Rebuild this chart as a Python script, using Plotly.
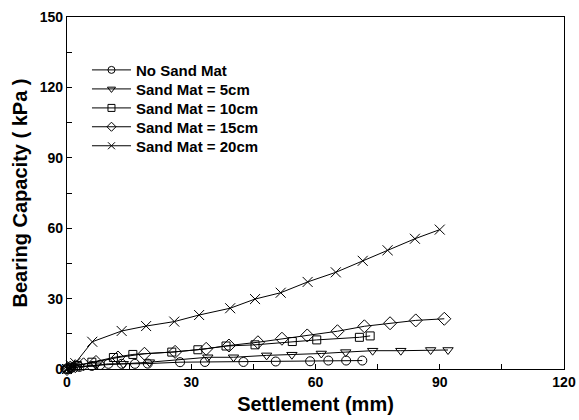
import plotly.graph_objects as go

# ---- data (Settlement mm, Bearing capacity kPa) ----
names = ["No Sand Mat", "Sand Mat = 5cm", "Sand Mat = 10cm", "Sand Mat = 15cm", "Sand Mat = 20cm"]

x_none = [0, 1, 3, 6, 8, 10.0, 13.2, 16.4, 19.5, 27.3, 33.3, 42.6, 50.4, 58.7, 63.1, 67.4, 71.3]
y_none = [0, 0.4, 0.9, 1.3, 1.7, 2.2, 2.2, 2.2, 2.3, 2.9, 3.0, 3.0, 3.2, 3.3, 3.6, 3.6, 3.6]

x_5 = [0, 1, 3, 7, 13.6, 19.9, 34.0, 40.2, 48.2, 54.3, 61.4, 67.3, 73.8, 80.6, 87.8, 92.0]
y_5 = [0, 0.5, 1.0, 1.6, 2.2, 2.9, 5.0, 5.0, 5.8, 6.1, 6.6, 7.2, 7.8, 7.8, 8.1, 8.1]

x_10 = [0, 1, 2.5, 6.0, 11.2, 15.9, 25.3, 31.6, 38.4, 45.4, 54.4, 60.3, 70.6, 73.2]
y_10 = [0, 0.8, 1.5, 2.9, 4.9, 6.2, 7.2, 8.2, 9.8, 10.3, 11.7, 12.4, 13.5, 14.1]

x_15 = [0, 0.8, 2.0, 4.0, 7.0, 12.3, 18.7, 26.1, 33.6, 39.1, 46.1, 51.9, 58.0, 65.3, 71.8, 78.0, 84.2, 91.1]
y_15 = [0, 0.6, 1.2, 2.0, 3.0, 4.9, 6.5, 7.3, 8.6, 10.0, 11.4, 12.9, 14.3, 16.1, 18.2, 19.5, 20.7, 21.4]

x_20 = [0, 1, 2, 6.1, 13.2, 19.1, 25.9, 31.9, 39.4, 45.4, 51.6, 58.1, 64.9, 71.4, 77.4, 84.0, 90.0]
y_20 = [0, 1.5, 2.5, 11.6, 16.2, 18.3, 20.2, 23.0, 25.9, 29.8, 32.5, 37.1, 41.2, 46.1, 50.6, 55.5, 59.4]

xs = [x_none, x_5, x_10, x_15, x_20]
ys = [y_none, y_5, y_10, y_15, y_20]
symbols = ["circle-open", "triangle-down-open", "square-open", "diamond-open", "x-thin-open"]
sizes = [9, 9, 8, 10, 10]

FONT = "Liberation Sans, Arial, sans-serif"
legend_ids = ["legend", "legend2", "legend3", "legend4", "legend5"]
legend_y = [0.849, 0.795, 0.741, 0.6875, 0.6335]

fig = go.Figure()
for n, x, y, s, sz, lg in zip(names, xs, ys, symbols, sizes, legend_ids):
    # data trace
    fig.add_trace(go.Scatter(
        x=x, y=y, mode="lines+markers", name=n, legendgroup=n, showlegend=False,
        line=dict(color="black", width=1),
        marker=dict(symbol=s, size=sz, color="black", line=dict(color="black", width=1)),
        cliponaxis=False,
    ))
    # legend entry (smaller marker)
    fig.add_trace(go.Scatter(
        x=[None], y=[None], mode="lines+markers", name=n, legendgroup=n, showlegend=True,
        legend=lg,
        line=dict(color="black", width=1),
        marker=dict(symbol=s, size=7, color="black", line=dict(color="black", width=1)),
    ))

axis_common = dict(
    showgrid=False, zeroline=False, showline=True, linecolor="black", linewidth=1.2,
    mirror=True, ticks="inside", ticklen=5, tickwidth=1, tickcolor="black",
    tickfont=dict(family=FONT, size=14, color="black", weight="bold"),
    minor=dict(ticks="inside", dtick=15, ticklen=5, tickwidth=1, tickcolor="black"),
)

fig.update_xaxes(range=[0, 120], dtick=30, tick0=0,
                 title=dict(text="Settlement (mm)", standoff=8,
                            font=dict(family=FONT, size=20, color="black", weight="bold")),
                 **axis_common)
fig.update_yaxes(range=[0, 150], dtick=30, tick0=0,
                 title=dict(text="Bearing Capacity ( kPa )", standoff=6,
                            font=dict(family=FONT, size=20, color="black", weight="bold")),
                 **axis_common)

legend_style = dict(x=0.0402, xanchor="left", yanchor="middle",
                    bgcolor="rgba(0,0,0,0)", borderwidth=0,
                    font=dict(family=FONT, size=15, color="black", weight="bold"),
                    itemwidth=39)

layout_legends = {lg: dict(y=ly, **legend_style) for lg, ly in zip(legend_ids, legend_y)}

fig.update_layout(
    width=579, height=420,
    margin=dict(l=67, r=15, t=17, b=51, autoexpand=False),
    plot_bgcolor="white", paper_bgcolor="white",
    font=dict(family=FONT, color="black"),
    **layout_legends,
)

fig.write_html("out.html")
